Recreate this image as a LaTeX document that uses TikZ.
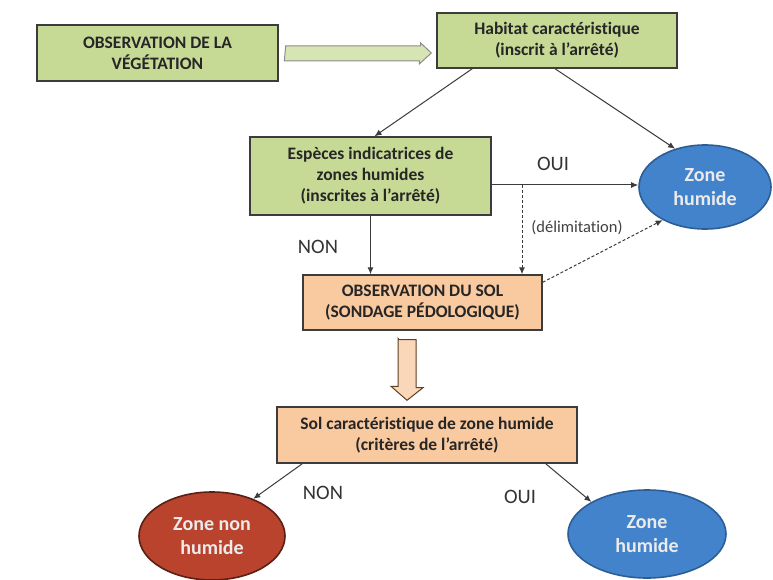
\documentclass[tikz,border=0pt]{standalone}
\usepackage{fontspec}
\setmainfont{Carlito}[Ligatures=NoCommon]
\usetikzlibrary{shapes.geometric,arrows.meta,calc}
\definecolor{boxgreen}{HTML}{C6DA96}
\definecolor{boxorange}{HTML}{F9C9A0}
\definecolor{bluefill}{HTML}{4383CC}
\definecolor{blueedge}{HTML}{2C5E96}
\definecolor{redfill}{HTML}{B9432D}
\definecolor{rededge}{HTML}{5A2016}
\definecolor{edge}{HTML}{3C3C3C}
\begin{document}
\begin{tikzpicture}[x=1pt,y=-1pt,
  gbox/.style={draw=edge,line width=1.4pt,fill=boxgreen,align=center,inner sep=0pt,
    font=\fontsize{17.5}{21}\selectfont\bfseries,text=black!85},
  obox/.style={draw=edge,line width=1.4pt,fill=boxorange,align=center,inner sep=0pt,
    font=\fontsize{17.5}{21}\selectfont\bfseries,text=black!85},
  zone/.style={ellipse,line width=1.6pt,align=center,inner sep=0pt,text=white!92!black,
    font=\fontsize{20}{24}\selectfont\bfseries},
  arr/.style={draw=edge,line width=1pt,-{Latex[length=7pt,width=6pt]}},
  darr/.style={arr,dashed,dash pattern=on 3pt off 2pt},
  lab/.style={font=\fontsize{20.5}{22}\selectfont,text=black!80,inner sep=0pt},
  slab/.style={font=\fontsize{16.5}{18}\selectfont,text=black!75,inner sep=0pt}]
\useasboundingbox (0,0) rectangle (773,580);
\fill[white] (0,0) rectangle (773,580);

% boxes
\node[gbox,minimum width=241pt,minimum height=56pt] (obs) at (157.5,53) {OBSERVATION DE LA\\VÉGÉTATION};
\node[gbox,minimum width=240pt,minimum height=55pt] (h) at (557,40.5) {Habitat caractéristique\\(inscrit à l’arrêté)};
\node[gbox,minimum width=241pt,minimum height=78pt] (e) at (370.5,176) {Espèces indicatrices de\\zones humides\\(inscrites à l’arrêté)};
\node[obox,minimum width=239pt,minimum height=55pt] (sol) at (422.5,302.5) {OBSERVATION DU SOL\\(SONDAGE PÉDOLOGIQUE)};
\node[obox,minimum width=300pt,minimum height=56pt] (s5) at (427,435) {Sol caractéristique de zone humide\\(critères de l’arrêté)};

% ellipses
\node[zone,draw=blueedge,fill=bluefill,minimum width=132pt,minimum height=84pt] (z1) at (705,187) {Zone\\humide};
\node[zone,draw=rededge,fill=redfill,minimum width=146pt,minimum height=88pt] (r) at (212,536) {Zone non\\humide};
\node[zone,draw=blueedge,fill=bluefill,minimum width=158pt,minimum height=88pt] (b) at (647,534) {Zone\\humide};

% hollow arrows
\draw[draw=black!45,line width=1pt,fill=boxgreen!70!white]
  ($(obs.east)+(7,-7)$) -- ++(135,0) -- ++(0,-3) -- ($(h.west)+(-5,12.5)$) -- ++(-12,11) -- ++(0,-3) -- ++(-135,0) -- cycle;
\draw[draw=black!50!brown,line width=1pt,fill=boxorange!75!white]
  ($(sol.south)+(-23.5,9)$) -- ++(17,0) -- ++(0,48) -- ++(7,0) -- ($(s5.north)+(-20,-6)$) -- ++(-16,-14) -- ++(7,0) -- ++(0,-48) -- cycle;

% connectors
\draw[arr] ([xshift=36pt]h.south west) -- ([xshift=4pt]e.north);
\draw[arr] ([xshift=-2pt]h.south) -- (z1.128);
\draw[arr] ([yshift=-9pt]e.east) -- (z1.west |- 0,185);
\coordinate (d) at (522,185);
\draw[darr] (d) -- (d |- sol.north);
\draw[darr] ([yshift=-8pt]sol.north east) -- (z1.218);
\draw[arr] (e.south) -- (e.south |- sol.north);
\draw[arr] ([xshift=26pt]s5.south west) -- (r.42);
\draw[arr] ([xshift=-32pt]s5.south east) -- (b.150);

% labels
\node[lab] (oui1) at (553,164) {OUI};
\node[lab] (non1) at (318,247) {NON};
\node[slab] (delim) at (577,228) {(délimitation)};
\node[lab] (non2) at (323,493) {NON};
\node[lab] (oui2) at (520,497) {OUI};
\end{tikzpicture}
\end{document}
